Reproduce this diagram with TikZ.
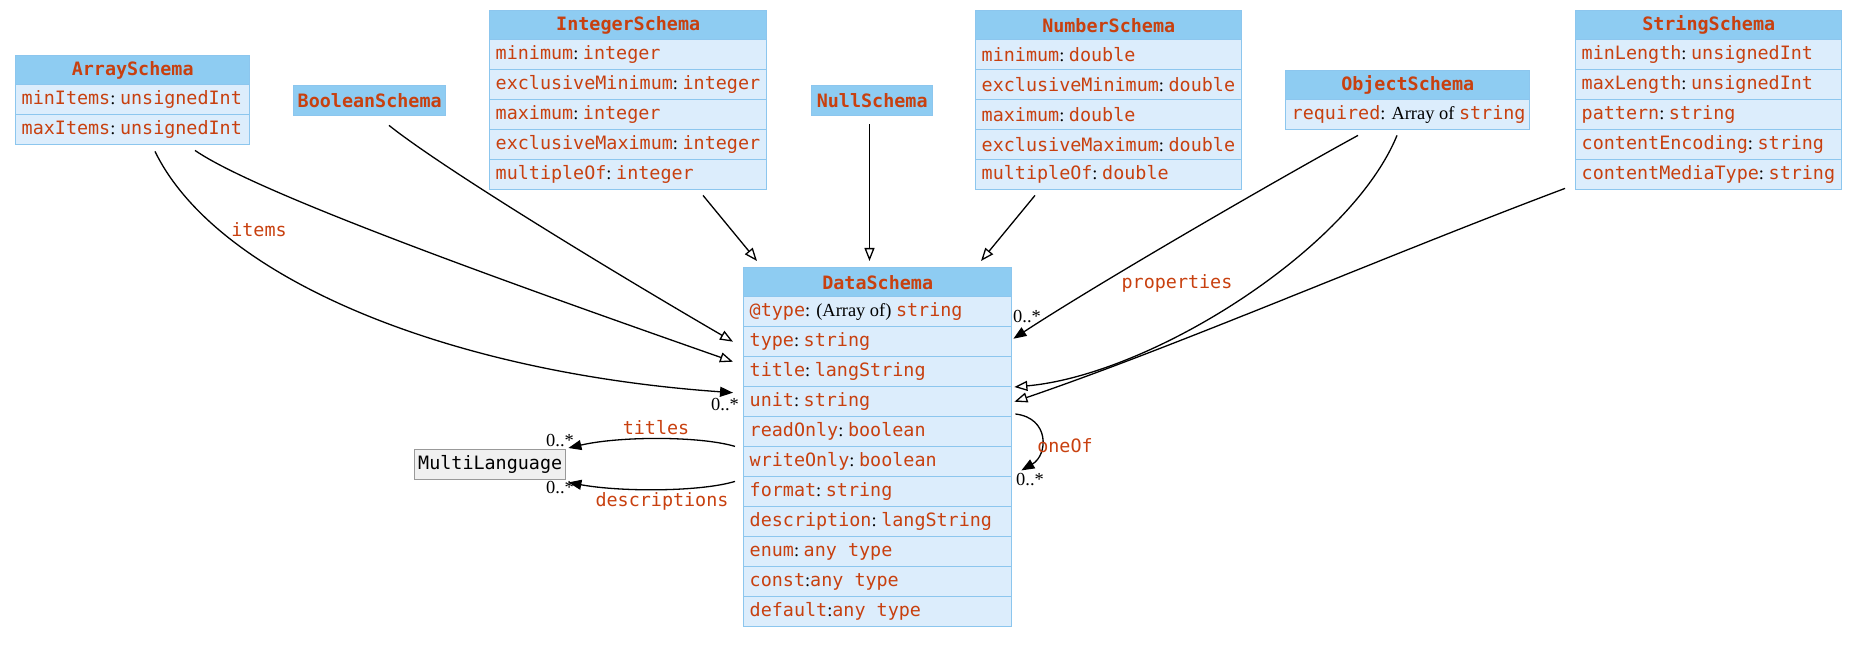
\documentclass[tikz,border=0pt]{standalone}
\usepackage{fontspec}
\newfontfamily\mono{DejaVu Sans Mono}
\newfontfamily\serif{Liberation Serif}
\usetikzlibrary{arrows.meta,calc}
\definecolor{hdrc}{HTML}{8ECCF2}
\definecolor{rowc}{HTML}{DCEDFC}
\definecolor{bordc}{HTML}{8CC6EE}
\definecolor{txtc}{HTML}{C8400F}
\definecolor{mlfill}{HTML}{F0F0F0}
\definecolor{mlbord}{HTML}{999999}
\newcommand\sz{\fontsize{9.2}{10}\selectfont}
\newcommand\srz{\fontsize{9.2}{10}\selectfont}
\newcommand\cl{{\serif\srz\color{black}:\ }}
\newcommand\cln{{\serif\srz\color{black}:}}
\newcommand\sr[1]{{\serif\srz\color{black}#1}}
\newcommand\rowsof[5]{%
  \foreach \txt [count=\i] in {#5} {%
    \node[rowbox] (#1-\i) at (#2, {#3+30*(\i-1)}) {\makebox[#4][l]{\mono\sz\txt}};
  }%
}
\tikzset{
  hdr/.style={draw=bordc, fill=hdrc, line width=0.7pt, anchor=north west,
    inner xsep=0pt, inner ysep=0pt, minimum height=14.5pt,
    font=\mono\bfseries\sz, text=txtc},
  rowbox/.style={draw=bordc, fill=rowc, line width=0.7pt, anchor=north west,
    inner xsep=3pt, inner ysep=0pt, minimum height=15pt,
    font=\mono\sz, text=txtc},
  inh/.style={draw, line width=0.65pt,
    -{Triangle[open, length=6.5pt, width=5pt, line width=0.65pt]}},
  assoc/.style={draw, line width=0.65pt,
    -{Triangle[length=6.5pt, width=5pt]}},
  mult/.style={font=\serif\srz, text=black, inner sep=0pt},
  elabel/.style={font=\mono\sz, text=txtc, inner sep=0pt}
}
\begin{document}
\begin{tikzpicture}[x=0.5pt, y=-0.5pt]
\useasboundingbox (0,0) rectangle (1856,663);

% ArraySchema
\node[hdr, minimum width=117pt, minimum height=14.5pt] (arr) at (15,55) {ArraySchema};
\rowsof{arr}{15}{84}{111pt}{{minItems\cl unsignedInt},{maxItems\cl unsignedInt}}

% BooleanSchema
\node[hdr, minimum width=76pt, minimum height=15pt] (bool) at (293,85) {BooleanSchema};

% IntegerSchema
\node[hdr, minimum width=138.5pt] (int) at (489,10) {IntegerSchema};
\rowsof{int}{489}{39}{132.5pt}{{minimum\cl integer},{exclusiveMinimum\cl integer},{maximum\cl integer},{exclusiveMaximum\cl integer},{multipleOf\cl integer}}

% NullSchema
\node[hdr, minimum width=60.5pt, minimum height=15pt] (null) at (811,85) {NullSchema};

% NumberSchema
\node[hdr, minimum width=133pt] (num) at (975,10) {NumberSchema};
\rowsof{num}{975}{39}{127pt}{{minimum\cl double},{exclusiveMinimum\cl double},{maximum\cl double},{exclusiveMaximum\cl double},{multipleOf\cl double}}

% ObjectSchema
\node[hdr, minimum width=122pt] (obj) at (1285,70) {ObjectSchema};
\rowsof{obj}{1285}{99}{116pt}{{required\sr{: Array of }string}}

% StringSchema
\node[hdr, minimum width=133pt] (str) at (1575,10) {StringSchema};
\rowsof{str}{1575}{39}{127pt}{{minLength\cl unsignedInt},{maxLength\cl unsignedInt},{pattern\cl string},{contentEncoding\cl string},{contentMediaType\cl string}}

% DataSchema
\node[hdr, minimum width=134pt] (ds) at (743,267) {DataSchema};
\rowsof{ds}{743}{296}{128pt}{{@type\sr{: (Array of) }string},{type\cl string},{title\cl langString},{unit\cl string},{readOnly\cl boolean},{writeOnly\cl boolean},{format\cl string},{description\cl langString},{enum\cl any type},{const\cln any type},{default\cln any type}}

% MultiLanguage
\node[draw=mlbord, fill=mlfill, line width=0.7pt, anchor=north west, inner sep=0pt,
  minimum width=75.5pt, minimum height=15pt, font=\mono\sz, text=black] (ml) at (414,449) {MultiLanguage};

% inheritance edges
\draw[inh] ($(int-5.south west)+(214,5)$) -- ($(ds.north west)+(14,-6)$);
\draw[inh] ($(null.south west)+(58.5,8)$) -- ($(ds.north west)+(126.5,-6)$);
\draw[inh] ($(num-5.south west)+(60,5)$) -- ($(ds.north west)+(238,-6)$);
\draw[inh] ($(bool.south west)+(96,9)$) .. controls (445,170) and (620,276) .. ($(ds-2.west)+(-10,0)$);
\draw[inh] ($(arr-2.south west)+(180,5)$) .. controls (255,192) and (500,280) .. ($(ds-3.west)+(-10,-10)$);
\draw[inh] ($(obj-1.south west)+(112,5)$) .. controls (1350,250) and (1150,375) .. ($(ds-4.north east)+(2,1)$);
\draw[inh] ($(str-5.south west)+(-10,-2)$) .. controls (1380,258) and (1180,345) .. ($(ds-4.east)+(2,0)$);

% associations
\draw[assoc] ($(arr-2.south west)+(140,6)$) .. controls (215,275) and (440,372) .. ($(ds-4.west)+(-10,-9)$);
\draw[assoc] ($(obj-1.south west)+(73,5)$) .. controls (1280,178) and (1100,282) .. ($(ds-2.east)+(1,-3)$);
\draw[assoc] ($(ds-5.south west)+(-8,-1)$) .. controls (700,436) and (620,436) .. ($(ml.north east)+(2,-1)$);
\draw[assoc] ($(ds-6.south west)+(-8,4)$) .. controls (700,492) and (620,492) .. ($(ml.south east)+(2,2)$);
\draw[assoc] ($(ds-5.north east)+(3,-2)$) .. controls (1050,418) and (1048,455) .. ($(ds-6.south east)+(9,-7)$);

% edge labels
\node[elabel] (litems) at (259,230) {items};
\node[elabel] (ltitles) at (656,428) {titles};
\node[elabel] (ldesc) at (662,501) {descriptions};
\node[elabel] (lprops) at (1177,283) {properties};
\node[elabel] (loneof) at (1065,446) {oneOf};

% multiplicities
\node[mult] (m1) at (1027,317) {0..*};
\node[mult] (m2) at (725,405) {0..*};
\node[mult] (m3) at (560,441) {0..*};
\node[mult] (m4) at (560,488) {0..*};
\node[mult] (m5) at (1030,480) {0..*};
\end{tikzpicture}
\end{document}
